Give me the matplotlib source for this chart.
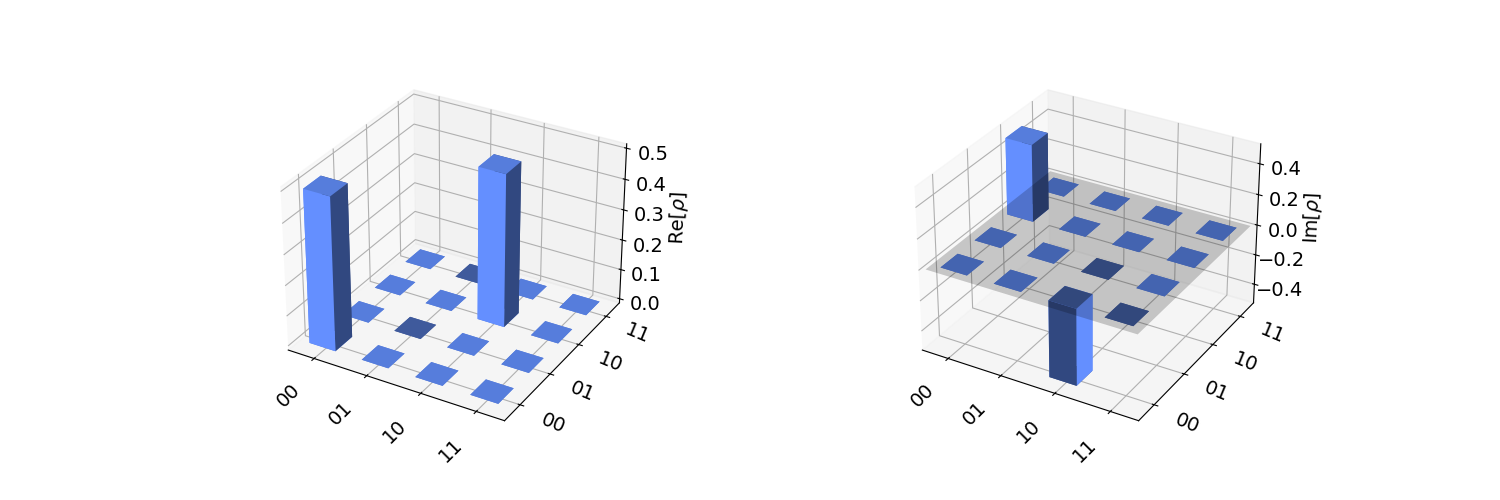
import matplotlib
matplotlib.use("Agg")
import matplotlib.pyplot as plt
import numpy as np
from mpl_toolkits.mplot3d.art3d import Poly3DCollection

labels = ["00", "01", "10", "11"]

# rows are x (column of the matrix), columns are y
# tiny negatives stand for numerical noise, they flip the shading of a flat tile
re_rho = [
    [0.5, 0.0, 0.0, 0.0],
    [0.0, -1e-17, 0.0, -1e-17],
    [0.0, 0.0, 0.5, 0.0],
    [0.0, 0.0, 0.0, 0.0],
]
im_rho = [
    [0.0, 0.0, 0.5, 0.0],
    [0.0, 0.0, 0.0, 0.0],
    [-0.5, -1e-17, 0.0, 0.0],
    [-1e-17, 0.0, 0.0, 0.0],
]

TOP = "#567ddc"
TOP_NEG = "#3f5a9c"
BRIGHT = "#648fff"
DARK = "#314880"


def face_colors(dz):
    # order used by bar3d: bottom, top, -y, +y, -x, +x
    if dz < 0:
        return [TOP_NEG, TOP_NEG, DARK, BRIGHT, BRIGHT, BRIGHT]
    return [TOP, TOP, BRIGHT, DARK, BRIGHT, DARK]


def plot_city(ax, data, zlabel):
    data = np.array(data)
    ax.computed_zorder = False
    for i in range(data.shape[0]):
        for j in range(data.shape[1]):
            dz = data[i, j]
            ax.bar3d(i + 0.25, j + 0.25, 0, 0.5, 0.5, dz,
                     color=face_colors(dz), shade=False, zorder=10 + i - j)

    # the plane only shows when there are real negative values
    if data.min() < -0.01 and data.max() > 0.01:
        lo, hi = 0.08, 3.92
        x = [lo, hi, hi, lo]
        y = [lo, lo, hi, hi]
        verts = [list(zip(x, y, [0, 0, 0, 0]))]
        ax.add_collection3d(Poly3DCollection(verts, alpha=0.2, facecolor="k",
                                             linewidths=1, zorder=50),
                            autolim=False)

    ax.set_xticks(np.arange(0.5, 4.5, 1))
    ax.set_yticks(np.arange(0.5, 4.5, 1))
    ax.set_xlim(0, 4, view_margin=0)
    ax.set_ylim(0, 4, view_margin=0)
    ax.set_zlim(data.min(), data.max(), view_margin=0.028)
    ax.set_xticklabels(labels, fontsize=14, rotation=45, ha="right", va="top")
    ax.set_yticklabels(labels, fontsize=14, rotation=-22.5, ha="left", va="center")
    ax.tick_params(axis="z", labelsize=14)
    ax.set_zlabel(zlabel, fontsize=14)


fig = plt.figure(figsize=(15, 5), dpi=100)
ax1 = fig.add_subplot(1, 2, 1, projection="3d")
ax2 = fig.add_subplot(1, 2, 2, projection="3d")
plot_city(ax1, re_rho, r"Re[$\rho$]")
plot_city(ax2, im_rho, r"Im[$\rho$]")
fig.savefig("out.png")
